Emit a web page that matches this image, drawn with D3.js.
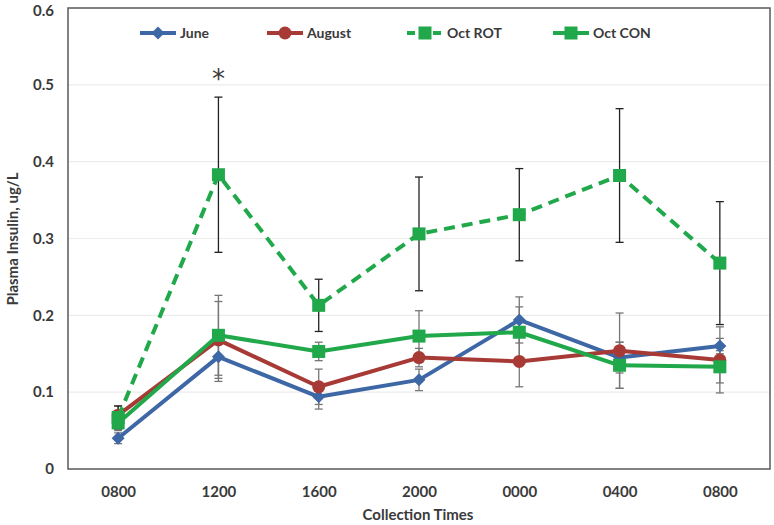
<!DOCTYPE html>
<html><head><meta charset="utf-8">
<script src="https://cdn.jsdelivr.net/npm/d3@7"></script>
<style>body{margin:0;background:#fff}svg{display:block}text{font-family:Lato,"Open Sans",sans-serif;font-weight:bold;fill:#3a3a3a}</style>
</head><body><svg id="c" width="774" height="525"></svg>
<script>
const times = ["0800","1200","1600","2000","0000","0400","0800"];
const yTicks = [0,0.1,0.2,0.3,0.4,0.5,0.6];
const june = [0.040,0.146,0.094,0.116,0.194,0.145,0.160];
const juneErr = [0.007,0.032,0.016,0.014,0.030,0.020,0.010];
const august = [0.070,0.168,0.107,0.145,0.140,0.154,0.142];
const augustErr = [0.012,0.050,0.023,0.012,0.033,0.049,0.043];
const octRot = [0.067,0.383,0.213,0.306,0.331,0.382,0.268];
const octRotErr = [0.015,0.101,0.034,0.074,0.060,0.087,0.080];
const octCon = [0.060,0.174,0.153,0.173,0.178,0.135,0.133];
const octConErr = [0.010,0.052,0.012,0.033,0.033,0.030,0.021];

const series = [
  {name:"June", vals:june, err:juneErr, color:"#3E67A6", marker:"diamond", dash:null, errColor:"#777"},
  {name:"August", vals:august, err:augustErr, color:"#A83A36", marker:"circle", dash:null, errColor:"#777"},
  {name:"Oct ROT", vals:octRot, err:octRotErr, color:"#20A84A", marker:"square", dash:"11,7", errColor:"#222"},
  {name:"Oct CON", vals:octCon, err:octConErr, color:"#20A84A", marker:"square", dash:null, errColor:"#777"}
];

const svg = d3.select("#c");
const L=68, R=770, T=8, B=469;
const idx = times.map((d,i)=>i);
const x = d3.scalePoint().domain(idx).range([L,R]).padding(0.5);
const y = d3.scaleLinear().domain([0,0.6]).range([B,T]);

svg.append("g").selectAll("line").data(yTicks.filter(d=>d>0&&d<0.6)).join("line")
  .attr("x1",L).attr("x2",R).attr("y1",d=>y(d)).attr("y2",d=>y(d))
  .attr("stroke","#ececec").attr("stroke-width",1.2);

const yAxis = d3.axisLeft(y).tickValues(yTicks).tickFormat(d=>d===0?"0":d3.format(".1f")(d)).tickSize(0).tickPadding(14);
const gy = svg.append("g").attr("transform",`translate(${L},0)`).call(yAxis);
gy.select(".domain").remove();
gy.selectAll("text").style("font-size","15px").attr("fill","#3a3a3a");
gy.selectAll(".tick").filter(d=>d===0.6).select("text").attr("dy","0.5em");
const xAxis = d3.axisBottom(x).tickFormat(i=>times[i]).tickSize(0).tickPadding(17);
const gx = svg.append("g").attr("transform",`translate(0,${B})`).call(xAxis);
gx.select(".domain").remove();
gx.selectAll("text").style("font-size","15px").attr("fill","#3a3a3a");

svg.append("rect").attr("x",L).attr("y",T).attr("width",R-L).attr("height",B-T)
  .attr("fill","none").attr("stroke","#595959").attr("stroke-width",1.5);

svg.append("text").attr("x",418).attr("y",520).attr("text-anchor","middle").style("font-size","15px").text("Collection Times");
svg.append("text").attr("transform","translate(18,239) rotate(-90)").attr("text-anchor","middle").style("font-size","15px").text("Plasma Insulin, ug/L");

series.forEach(s=>{
  const g = svg.append("g");
  s.vals.forEach((v,i)=>{
    const cx=x(i), e=s.err[i];
    g.append("line").attr("x1",cx).attr("x2",cx).attr("y1",y(v+e)).attr("y2",y(v-e)).attr("stroke",s.errColor).attr("stroke-width",1.3);
    [v+e,v-e].forEach(t=>g.append("line").attr("x1",cx-4).attr("x2",cx+4).attr("y1",y(t)).attr("y2",y(t)).attr("stroke",s.errColor).attr("stroke-width",1.3));
  });
});

const line = d3.line().x((d,i)=>x(i)).y(d=>y(d));
function drawMarker(g, type, cx, cy, color){
  if(type==="diamond") g.append("path").attr("d",`M${cx},${cy-6.5}L${cx+6.5},${cy}L${cx},${cy+6.5}L${cx-6.5},${cy}Z`).attr("fill",color);
  else if(type==="circle") g.append("circle").attr("cx",cx).attr("cy",cy).attr("r",6.5).attr("fill",color);
  else g.append("rect").attr("x",cx-6.5).attr("y",cy-6.5).attr("width",13).attr("height",13).attr("fill",color);
}
series.forEach(s=>{
  const g = svg.append("g");
  g.append("path").datum(s.vals).attr("d",line).attr("fill","none").attr("stroke",s.color)
    .attr("stroke-width",4).attr("stroke-linejoin","round").attr("stroke-dasharray",s.dash);
  s.vals.forEach((v,i)=>drawMarker(g,s.marker,x(i),y(v),s.color));
});

svg.append("text").attr("x",x(1)).attr("y",88).attr("text-anchor","middle").style("font-size","26px").style("font-family","'DejaVu Sans',sans-serif").style("font-weight","normal").attr("fill","#222").text("*");

const legX = [140,267,407,553];
series.forEach((s,i)=>{
  const g = svg.append("g").attr("transform",`translate(${legX[i]},33)`);
  g.append("line").attr("x1",0).attr("x2",36).attr("y1",0).attr("y2",0).attr("stroke",s.color).attr("stroke-width",4)
    .attr("stroke-dasharray",s.dash?"8,5":null);
  drawMarker(g,s.marker,18,0,s.color);
  g.append("text").attr("x",40).attr("y",5).style("font-size","14px").text(s.name);
});
</script></body></html>
